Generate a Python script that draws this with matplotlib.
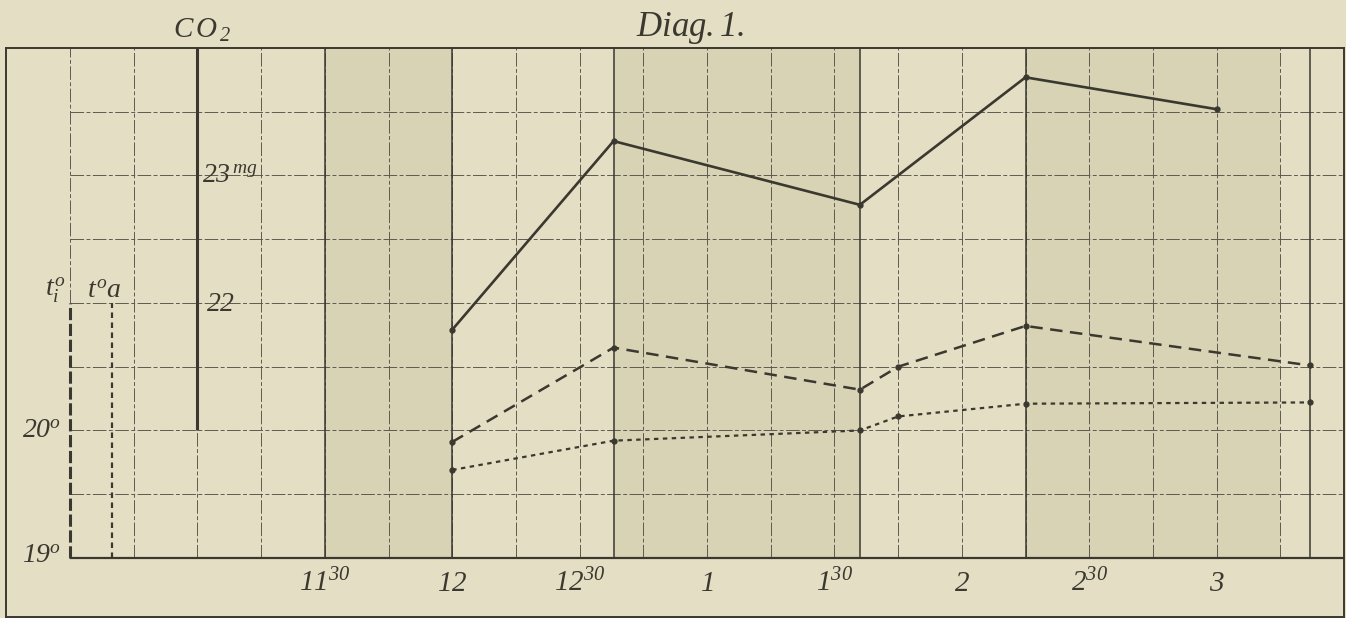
import matplotlib.pyplot as plt

# time axis: minutes after 12 o'clock; one grid cell = 15 min = 0.5 degC
co2_time = [0, 38, 96, 135, 180]
co2_mg = [21.79, 23.27, 22.77, 23.77, 23.52]

temp_time = [0, 38, 96, 105, 135, 202]
temp_inside = [19.91, 20.65, 20.32, 20.50, 20.82, 20.51]   # t°i, dashed
temp_outside = [19.69, 19.92, 20.00, 20.11, 20.21, 20.22]  # t°a, dotted

tick_times = [-30, 0, 30, 60, 90, 120, 150, 180]
tick_labels = [r"$11^{30}$", r"$12$", r"$12^{30}$", r"$1$", r"$1^{30}$",
               r"$2$", r"$2^{30}$", r"$3$"]

shaded_spans = [(-30, 0), (38, 96), (135, 195)]
solid_times = [-30, 0, 38, 96, 135, 202]

plt.rcParams["mathtext.fontset"] = "custom"
plt.rcParams["mathtext.it"] = "Liberation Serif:italic"
plt.rcParams["mathtext.rm"] = "Liberation Serif:italic"
plt.rcParams["mathtext.default"] = "it"

bg = "#e4dfc4"
shade = "#d8d3b5"
ink = "#3a382f"
grid_ink = "#5e5a4f"

fig = plt.figure(figsize=(13.46, 6.18), dpi=100)
fig.patch.set_facecolor(bg)
ax = fig.add_axes([6.3 / 1346, 1 / 618, 1337.7 / 1346, 569 / 618])
ax.set_facecolor(bg)
ax.set_xlim(-105, 210)
ax.set_ylim(18.537, 23.0)

# --- shaded bands ---
for a, b in shaded_spans:
    ax.fill_betweenx([19, 23], a, b, color=shade, lw=0, zorder=0)

# --- grid ---
grid_ls = (0, (14, 2.5, 4, 2.5))
vx = [-90 + 15 * k for k in range(1, 20)]
ax.vlines(vx, 19, 23, colors=grid_ink, lw=0.7, linestyles=[grid_ls], zorder=1)
ax.vlines(-90, 21, 23, colors=grid_ink, lw=0.7, linestyles=[grid_ls], zorder=1)
hy = [19.5 + 0.5 * k for k in range(7)]
ax.hlines(hy, -90, 210, colors=grid_ink, lw=0.7, linestyles=[grid_ls], zorder=1)
ax.hlines(19, -90, 210, colors=ink, lw=1.6, zorder=2)

# heavier measurement lines
ax.vlines(solid_times, 19, 23, colors=ink, lw=1.1, zorder=2)

# --- axes of the temperature scales ---
ax.vlines(-90, 19, 21, colors=ink, lw=2.2, linestyles=[(0, (4, 1.2))], zorder=3)
ax.vlines(-80, 19, 21, colors=ink, lw=1.6, linestyles=[(0, (2.5, 2))], zorder=3)

# --- CO2 scale on a twin axis (22 mg sits on the 21 deg line) ---
ax2 = ax.twinx()
ax2.set_ylim(ax.get_ylim()[0] + 1, ax.get_ylim()[1] + 1)
ax2.axis("off")
ax2.vlines(-60, 21, 24, colors=ink, lw=2.2, zorder=3)

# --- data ---
ax.plot(temp_time, temp_inside, color=ink, lw=1.8, ls=(0, (5, 3)),
        marker="o", ms=3.5, zorder=4)
ax.plot(temp_time, temp_outside, color=ink, lw=1.6, ls=(0, (2, 2)),
        marker="o", ms=3.5, zorder=4)
ax2.plot(co2_time, co2_mg, color=ink, lw=1.9, marker="o", ms=3.5, zorder=4)

# --- texts ---
for t, lab in zip(tick_times, tick_labels):
    ax.text(t, 18.80, lab, ha="center", va="center", fontsize=21, color=ink)

ax.text(-92, 20, r"$20^{o}$", ha="right", va="center", fontsize=20, color=ink)
ax.text(-92, 19.02, r"$19^{o}$", ha="right", va="center", fontsize=20, color=ink)
ax.text(-91, 21.1, r"$t^{o}_{i}$", ha="right", va="center", fontsize=20, color=ink)
ax.text(-86, 21.1, r"$t^{o}a$", ha="left", va="center", fontsize=20, color=ink)

ax2.text(-59, 23, r"$23^{\,mg}$", ha="left", va="center", fontsize=20, color=ink)
ax2.text(-58, 22, r"$22$", ha="left", va="center", fontsize=20, color=ink)
ax.text(-59, 23.14, r"$C\,O_{\,2}$", ha="center", va="center", fontsize=21,
        color=ink, clip_on=False)
ax.text(56, 23.16, r"$Diag.1.$", ha="center", va="center", fontsize=25,
        color=ink, clip_on=False)

ax.set_xticks([])
ax.set_yticks([])
for s in ax.spines.values():
    s.set_color(ink)
    s.set_linewidth(1.4)

fig.savefig("out.png", dpi=100, facecolor=bg)
